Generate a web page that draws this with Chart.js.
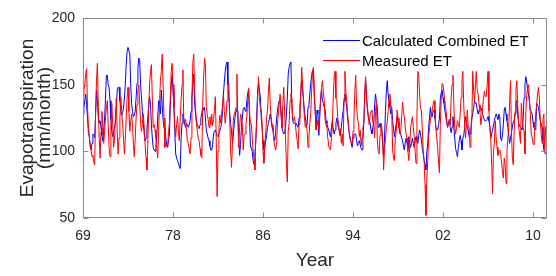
<!DOCTYPE html>
<html><head><meta charset="utf-8">
<script src="https://cdn.jsdelivr.net/npm/chart.js@4.4.1/dist/chart.umd.min.js"></script>
<style>html,body{margin:0;padding:0;background:#fff;}canvas{display:block;}</style>
</head><body>
<canvas id="c" width="556" height="276"></canvas>
<script>
// Month index 0 = Jan 1969
const xTickMonths = [0, 100, 200, 300, 400, 500];
const xTickLabels = ['69', '78', '86', '94', '02', '10'];
const yTickValues = [50, 100, 150, 200];
const seriesNames = ['Calculated Combined ET', 'Measured ET'];

const calculatedET = [
128,133,138,143,135,125,114,111,104,101,
106,113,112,110,128,146,138,125,121,123,
118,112,108,115,125,140,157,157,150,148,
138,124,115,111,114,118,121,132,146,148,
148,138,130,127,129,132,140,150,165,175,
178,178,173,150,136,130,126,127,130,140,
151,162,170,168,150,140,130,121,113,108,
110,116,125,135,141,135,120,110,103,101,
100,103,112,125,138,135,128,
146,135,123,118,116,110,105,103,108,113,
135,150,157,145,133,115,98,95,93,91,
89,87,110,121,128,125,120,118,121,120,
118,120,123,130,140,150,158,137,128,123,
120,118,117,120,125,129,133,131,133,125,
116,113,110,108,104,101,101,105,113,115,
116,114,112,111,111,115,118,121,130,143,
152,160,165,167,150,140,128,121,115,106,
113,120,126,130,132,130,
110,97,105,118,125,132,133,131,130,138,
143,147,125,103,103,100,93,90,98,108,
126,145,151,146,141,125,118,108,101,103,
108,112,118,121,124,128,124,118,116,111,
108,114,124,130,135,138,138,128,118,115,
113,114,118,128,140,158,163,166,167,135,
123,121,121,120,121,119,118,125,133,145,
153,145,138,130,125,121,120,133,135,143,
151,157,161,158,140,130,
116,131,128,112,125,140,146,138,136,133,
131,123,121,118,116,113,111,118,123,117,
113,116,121,125,120,117,115,112,118,125,
130,138,143,138,133,125,118,113,110,106,
103,110,113,113,113,108,104,106,108,105,
102,101,110,121,140,153,140,131,126,124,
121,116,113,118,121,135,143,137,133,118,
118,121,118,115,105,96,110,130,145,153,
143,138,133,128,133,
123,117,111,116,121,126,122,118,115,113,
110,108,104,101,106,110,106,102,111,106,
103,106,110,106,103,108,111,108,106,112,
116,113,108,102,98,93,90,86,100,106,
118,125,133,126,126,130,131,125,118,116,
116,120,125,140,144,146,140,136,131,126,
122,118,121,124,118,114,118,126,118,110,
102,99,96,103,108,112,108,101,110,112,
118,126,122,118,116,
111,113,118,125,128,133,138,136,136,131,
128,131,133,133,131,128,126,123,123,123,
124,126,123,118,110,113,116,119,123,126,
128,126,124,128,126,110,108,112,120,131,
133,128,123,118,112,106,110,114,118,122,
123,128,136,138,128,121,119,118,117,116,
125,140,150,156,152,146,143,137,131,130,
128,122,118,117,116,136,135,133,128,123,
121,118,108,101,99,98,100
];

const measuredET = [
141,146,150,158,162,133,120,111,104,101,
96,97,92,90,130,153,166,133,110,95,
115,130,118,106,115,125,132,138,120,103,
96,118,136,120,103,108,125,140,115,98,
110,125,141,130,121,110,98,110,125,140,
148,130,115,122,128,120,105,96,110,125,
135,145,150,135,121,115,121,128,118,105,
95,86,105,132,150,160,165,140,118,120,
116,110,102,95,115,135,153,
160,173,150,125,103,106,104,103,115,121,
140,160,166,150,133,120,111,120,126,115,
108,125,138,150,161,121,122,124,115,108,
106,102,98,110,140,166,173,146,132,121,
115,110,108,102,97,95,135,155,170,165,
133,128,124,118,126,120,128,119,124,130,
141,110,66,100,118,127,121,129,133,143,
130,121,128,138,146,151,125,100,88,105,
123,128,130,133,158,125,
103,118,128,126,120,101,112,113,120,126,
138,147,130,121,121,110,101,95,86,110,
121,140,156,140,133,131,120,100,91,105,
113,125,131,145,155,135,126,120,118,108,
104,101,105,120,128,136,143,130,118,135,
148,130,110,90,77,115,121,138,143,140,
125,123,126,120,113,108,102,120,125,145,
163,150,138,125,118,121,115,103,110,121,
128,145,160,163,145,130,
116,123,120,116,130,138,148,153,145,138,
123,120,118,110,104,102,101,110,118,140,
155,160,140,138,125,121,112,117,106,113,
104,140,160,145,138,128,120,112,108,106,
106,115,123,145,157,133,125,121,111,116,
104,110,118,121,145,156,140,133,125,120,
128,130,131,122,118,110,130,138,108,100,
98,112,120,118,108,86,103,108,118,122,
130,140,143,135,131,
101,95,93,110,115,131,125,118,113,115,
125,137,130,126,118,113,110,100,93,105,
118,122,126,118,111,100,91,125,160,158,
141,132,131,116,100,93,75,52,80,93,
110,118,123,128,131,135,138,128,118,110,
103,92,84,120,140,151,150,150,138,133,
125,118,121,123,120,140,150,157,135,118,
113,118,123,120,118,128,140,152,160,135,
120,110,120,131,118,
118,103,115,123,160,145,138,150,160,145,
143,135,130,120,125,133,140,145,141,141,
150,160,130,118,110,90,68,100,106,123,
110,103,97,100,101,98,92,85,80,95,
90,76,100,110,118,138,153,115,95,90,
115,130,145,153,135,118,113,106,136,125,
118,115,98,130,142,148,150,138,128,113,
110,106,105,118,128,135,143,148,140,124,
113,106,124,128,100,118,120
];

const FONT = "'Liberation Sans', Arial, sans-serif";
const AXIS_COLOR = '#8a8a8a';
const TEXT_COLOR = '#262626';

const boxPlugin = {
  id: 'boxTicks',
  afterDraw(chart) {
    const {ctx, chartArea: a, scales: {x, y}} = chart;
    ctx.save();
    ctx.strokeStyle = AXIS_COLOR;
    ctx.lineWidth = 1;
    const L = Math.round(a.left) + 0.5, R = Math.round(a.right) - 0.5;
    const T = Math.round(a.top) + 0.5, B = Math.round(a.bottom) - 0.5;
    ctx.strokeRect(L, T, R - L, B - T);
    ctx.beginPath();
    const tl = 5;
    xTickMonths.forEach(v => {
      const px = Math.round(x.getPixelForValue(v)) + 0.5;
      ctx.moveTo(px, B); ctx.lineTo(px, B - tl);
      ctx.moveTo(px, T); ctx.lineTo(px, T + tl);
    });
    yTickValues.forEach(v => {
      const py = Math.round(y.getPixelForValue(v)) + 0.5;
      ctx.moveTo(L, py); ctx.lineTo(L + tl, py);
      ctx.moveTo(R, py); ctx.lineTo(R - tl, py);
    });
    ctx.stroke();
    // legend
    const ds = chart.data.datasets;
    ctx.font = '15px ' + FONT;
    ctx.textBaseline = 'middle';
    ctx.textAlign = 'left';
    const lx0 = a.right - 224, lx1 = a.right - 187;
    [0, 1].forEach(i => {
      const ly = a.top + 22 + i * 20 + 0.5;
      ctx.strokeStyle = ds[i].borderColor;
      ctx.beginPath(); ctx.moveTo(lx0, ly); ctx.lineTo(lx1, ly); ctx.stroke();
      ctx.fillStyle = '#000';
      ctx.fillText(ds[i].label, lx1 + 2, ly + 1);
    });
    ctx.restore();
  }
};

new Chart(document.getElementById('c'), {
  type: 'line',
  data: {
    datasets: [
      { label: seriesNames[0], data: calculatedET.map((v, i) => ({x: i, y: v})),
        borderColor: '#0000ff', borderWidth: 1, pointRadius: 0, tension: 0, order: 1 },
      { label: seriesNames[1], data: measuredET.map((v, i) => ({x: i, y: v})),
        borderColor: '#ff0000', borderWidth: 1, pointRadius: 0, tension: 0, order: 0 }
    ]
  },
  options: {
    responsive: false,
    animation: false,
    devicePixelRatio: 1,
    layout: { padding: { top: 18, right: 9, bottom: 0, left: 0 } },
    plugins: { legend: { display: false }, tooltip: { enabled: false } },
    scales: {
      x: {
        type: 'linear', min: 0, max: 515.5,
        afterBuildTicks: s => { s.ticks = xTickMonths.map(v => ({value: v})); },
        afterFit: s => { s.height = 58; },
        grid: { display: false, drawTicks: false },
        border: { display: false },
        ticks: { padding: 10, color: TEXT_COLOR, font: { size: 14, family: FONT },
                 maxRotation: 0, autoSkip: false,
                 callback: v => { const i = xTickMonths.indexOf(v); return i >= 0 ? xTickLabels[i] : ''; } },
        title: { display: true, text: 'Year', color: TEXT_COLOR,
                 font: { size: 19, family: FONT }, padding: { top: 0, bottom: 4 } }
      },
      y: {
        min: 50, max: 200,
        afterBuildTicks: s => { s.ticks = yTickValues.map(v => ({value: v})); },
        afterFit: s => { s.width = 83; },
        grid: { display: false, drawTicks: false },
        border: { display: false },
        ticks: { padding: 8, color: TEXT_COLOR, font: { size: 14, family: FONT } },
        title: { display: true, text: ['Evapotranspiration', '(mm/month)'], color: TEXT_COLOR,
                 font: { size: 19, family: FONT, lineHeight: 0.9 }, padding: { top: 19.5, bottom: 0 } }
      }
    }
  },
  plugins: [boxPlugin]
});
</script>
</body></html>
